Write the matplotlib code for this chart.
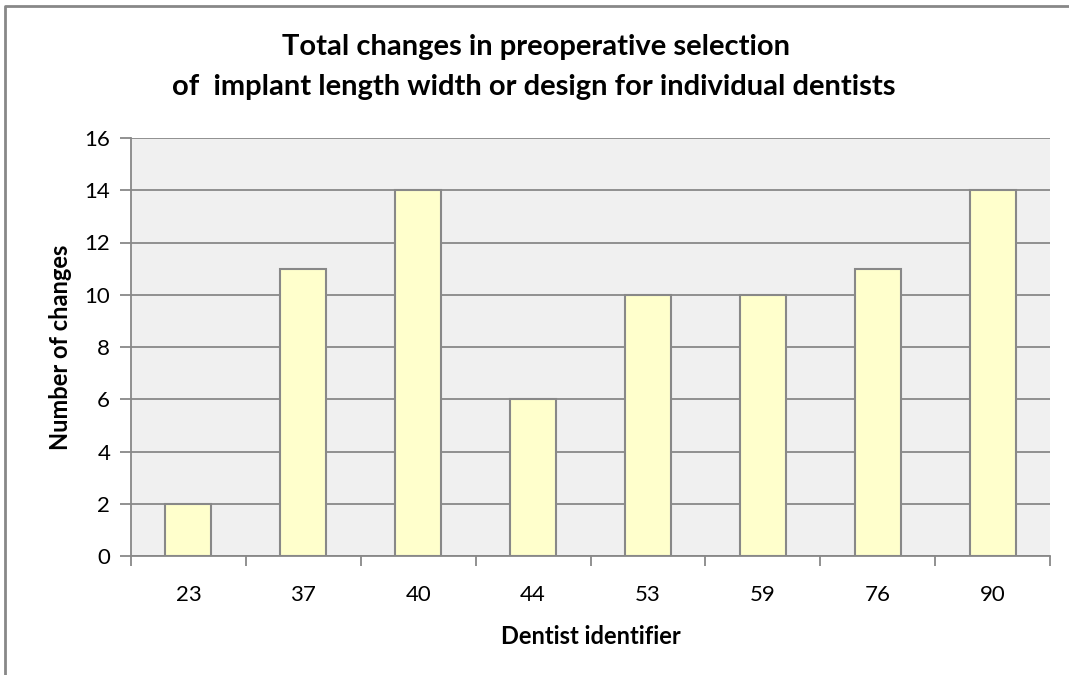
import matplotlib.pyplot as plt
from matplotlib.lines import Line2D

plt.rcParams['font.family'] = ['Lato', 'DejaVu Sans']

# data
dentists = ['23', '37', '40', '44', '53', '59', '76', '90']
changes = [2, 11, 14, 6, 10, 10, 11, 14]

fig = plt.figure(figsize=(10.69, 6.75), dpi=100)
ax = fig.add_axes([131/1069, 1-556/675, (1050-131)/1069, (556-138)/675])

ax.set_facecolor('#f0f0f0')
x = range(len(dentists))
ax.bar(x, changes, width=0.4, color='#ffffcc', edgecolor='#888888', linewidth=1.5, zorder=3)

ax.set_xlim(-0.5, len(dentists) - 0.5)
ax.set_ylim(0, 16)
ax.set_yticks(range(0, 17, 2))
ax.grid(axis='y', color='#888888', linewidth=1.3, zorder=0)

ax.set_xticks(list(x))
ax.set_xticklabels(dentists, fontsize=16)
ax.set_xticks([i - 0.5 for i in range(len(dentists) + 1)], minor=True)
ax.tick_params(axis='x', which='major', length=0, pad=21)
ax.tick_params(axis='x', which='minor', length=7, width=1.3, color='#888888', direction='out')
ax.tick_params(axis='y', length=8, width=1.3, color='#888888', labelsize=16, pad=7)

for s in ['top', 'right']:
    ax.spines[s].set_visible(False)
for s in ['left', 'bottom']:
    ax.spines[s].set_color('#888888')
    ax.spines[s].set_linewidth(1.3)

ax.set_xlabel('Dentist identifier', fontsize=17, fontweight='bold', labelpad=14)
ax.set_ylabel('Number of changes', fontsize=17, fontweight='bold', labelpad=9)

fig.text(536/1069, 1-47/675, 'Total changes in preoperative selection', ha='center', va='center',
         fontsize=21, fontweight='bold')
fig.text(534/1069, 1-87/675, 'of  implant length width or design for individual dentists', ha='center', va='center',
         fontsize=21, fontweight='bold')

# outer frame
fig.add_artist(Line2D([5/1069, 5/1069, 1.0], [0.0, 1-6/675, 1-6/675], transform=fig.transFigure,
                      color='#888888', linewidth=2))

fig.savefig('out.png', dpi=100)
